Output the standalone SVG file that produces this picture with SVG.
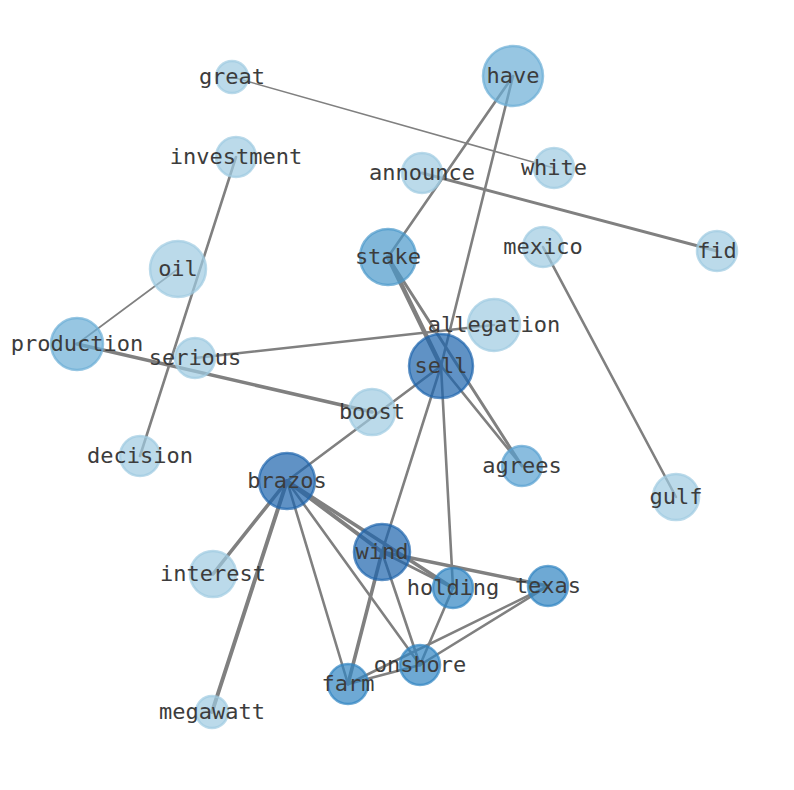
<svg xmlns="http://www.w3.org/2000/svg" width="794" height="790" viewBox="0 0 794 790">
<style>
.e{stroke:#808080;fill:none;stroke-linecap:round}
.n circle{stroke-width:2.5;fill-opacity:0.7;stroke-opacity:0.7}
.n text{font-family:"DejaVu Sans Mono",monospace;font-size:22px;fill:#3c3c3c;text-anchor:middle}
.c1 circle{fill:#9ecae1;stroke:#9ecae1}
.c2 circle{fill:#6baed6;stroke:#6baed6}
.c3 circle{fill:#58a1d2;stroke:#58a1d2}
.c4 circle{fill:#4a98cb;stroke:#4a98cb}
.c5 circle{fill:#3184c2;stroke:#3184c2}
.c6 circle{fill:#1c64ad;stroke:#1c64ad}
</style>
<rect width="794" height="790" fill="#ffffff"/>
<g id="edges">
<line class="e" x1="232" y1="77" x2="554" y2="168" stroke-width="1.6"/>
<line class="e" x1="178" y1="269" x2="77" y2="344" stroke-width="1.6"/>
<line class="e" x1="513" y1="76" x2="388" y2="257" stroke-width="2.6"/>
<line class="e" x1="513" y1="76" x2="441" y2="366" stroke-width="2.6"/>
<line class="e" x1="236" y1="157" x2="140" y2="456" stroke-width="2.6"/>
<line class="e" x1="422" y1="173" x2="717" y2="251" stroke-width="3"/>
<line class="e" x1="388" y1="257" x2="441" y2="366" stroke-width="4.5"/>
<line class="e" x1="388" y1="257" x2="522" y2="466" stroke-width="3"/>
<line class="e" x1="441" y1="366" x2="522" y2="466" stroke-width="2.6"/>
<line class="e" x1="543" y1="247" x2="676" y2="497" stroke-width="2.6"/>
<line class="e" x1="77" y1="344" x2="372" y2="412" stroke-width="3.6"/>
<line class="e" x1="195" y1="358" x2="494" y2="325" stroke-width="2.6"/>
<line class="e" x1="287" y1="481" x2="441" y2="366" stroke-width="2.6"/>
<line class="e" x1="441" y1="366" x2="382" y2="552" stroke-width="2.6"/>
<line class="e" x1="441" y1="366" x2="453" y2="588" stroke-width="2.6"/>
<line class="e" x1="287" y1="481" x2="213" y2="574" stroke-width="3.6"/>
<line class="e" x1="287" y1="481" x2="212" y2="712" stroke-width="4"/>
<line class="e" x1="287" y1="481" x2="382" y2="552" stroke-width="4"/>
<line class="e" x1="287" y1="481" x2="453" y2="588" stroke-width="3.6"/>
<line class="e" x1="287" y1="481" x2="348" y2="684" stroke-width="2.6"/>
<line class="e" x1="287" y1="481" x2="420" y2="665" stroke-width="2.6"/>
<line class="e" x1="382" y1="552" x2="548" y2="586" stroke-width="3.6"/>
<line class="e" x1="382" y1="552" x2="453" y2="588" stroke-width="2.6"/>
<line class="e" x1="382" y1="552" x2="348" y2="684" stroke-width="3.6"/>
<line class="e" x1="382" y1="552" x2="420" y2="665" stroke-width="2.6"/>
<line class="e" x1="453" y1="588" x2="420" y2="665" stroke-width="2.6"/>
<line class="e" x1="548" y1="586" x2="420" y2="665" stroke-width="2.6"/>
<line class="e" x1="548" y1="586" x2="348" y2="684" stroke-width="2.6"/>
<line class="e" x1="348" y1="684" x2="420" y2="665" stroke-width="2.6"/>
</g>
<g id="great" class="n c1"><circle cx="232" cy="77" r="16"/><text x="232" y="84">great</text></g>
<g id="have" class="n c2"><circle cx="513" cy="76" r="30"/><text x="513" y="83">have</text></g>
<g id="investment" class="n c1"><circle cx="236" cy="157" r="20"/><text x="236" y="164">investment</text></g>
<g id="white" class="n c1"><circle cx="554" cy="168" r="20"/><text x="554" y="175">white</text></g>
<g id="announce" class="n c1"><circle cx="422" cy="173" r="20"/><text x="422" y="180">announce</text></g>
<g id="stake" class="n c4"><circle cx="388" cy="257" r="28"/><text x="388" y="264">stake</text></g>
<g id="mexico" class="n c1"><circle cx="543" cy="247" r="20"/><text x="543" y="254">mexico</text></g>
<g id="fid" class="n c1"><circle cx="717" cy="251" r="20"/><text x="717" y="258">fid</text></g>
<g id="oil" class="n c1"><circle cx="178" cy="269" r="28"/><text x="178" y="276">oil</text></g>
<g id="production" class="n c2"><circle cx="77" cy="344" r="26"/><text x="77" y="351">production</text></g>
<g id="allegation" class="n c1"><circle cx="494" cy="325" r="26"/><text x="494" y="332">allegation</text></g>
<g id="serious" class="n c1"><circle cx="195" cy="358" r="20"/><text x="195" y="365">serious</text></g>
<g id="sell" class="n c6"><circle cx="441" cy="366" r="32"/><text x="441" y="373">sell</text></g>
<g id="boost" class="n c1"><circle cx="372" cy="412" r="23"/><text x="372" y="419">boost</text></g>
<g id="decision" class="n c1"><circle cx="140" cy="456" r="20"/><text x="140" y="463">decision</text></g>
<g id="agrees" class="n c3"><circle cx="522" cy="466" r="20"/><text x="522" y="473">agrees</text></g>
<g id="gulf" class="n c1"><circle cx="676" cy="497" r="23"/><text x="676" y="504">gulf</text></g>
<g id="brazos" class="n c6"><circle cx="287" cy="481" r="28"/><text x="287" y="488">brazos</text></g>
<g id="wind" class="n c6"><circle cx="382" cy="552" r="28"/><text x="382" y="559">wind</text></g>
<g id="interest" class="n c1"><circle cx="213" cy="574" r="23"/><text x="213" y="581">interest</text></g>
<g id="holding" class="n c5"><circle cx="453" cy="588" r="20"/><text x="453" y="595">holding</text></g>
<g id="texas" class="n c5"><circle cx="548" cy="586" r="20"/><text x="548" y="593">texas</text></g>
<g id="onshore" class="n c5"><circle cx="420" cy="665" r="20"/><text x="420" y="672">onshore</text></g>
<g id="farm" class="n c5"><circle cx="348" cy="684" r="20"/><text x="348" y="691">farm</text></g>
<g id="megawatt" class="n c1"><circle cx="212" cy="712" r="16"/><text x="212" y="719">megawatt</text></g>
</svg>
